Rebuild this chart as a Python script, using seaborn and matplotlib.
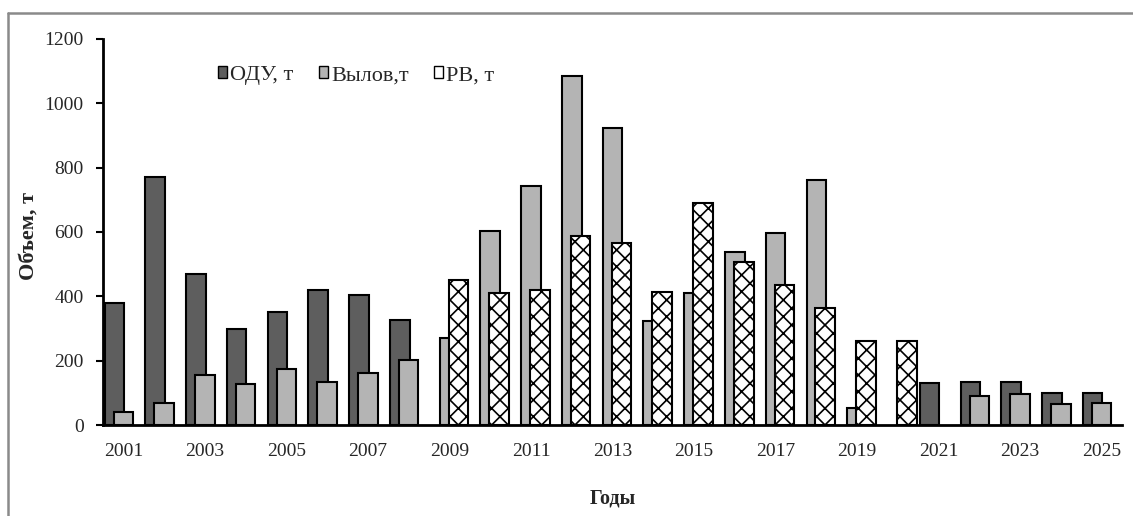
import numpy as np
import pandas as pd
import matplotlib
matplotlib.use("Agg")
import matplotlib.pyplot as plt
import seaborn as sns
from matplotlib.patches import Patch
from matplotlib.lines import Line2D

nan = np.nan
years = list(range(2001, 2026))
odu = [380, 770, 470, 300, 350, 420, 405, 325,
       nan, nan, nan, nan, nan, nan, nan, nan, nan, nan, nan, nan,
       130, 135, 135, 100, 100]
vylov = [40, 67, 155, 127, 173, 134, 161, 203,
         272, 604, 744, 1086, 922, 324, 409, 539, 596, 762, 54, nan,
         nan, 90, 95, 64, 67]
rv = [nan, nan, nan, nan, nan, nan, nan, nan,
      451, 409, 420, 588, 567, 412, 691, 506, 435, 363, 262, 262,
      nan, nan, nan, nan, nan]
series_names = ["ОДУ, т", "Вылов,т", "РВ, т"]
y_ticks = [0, 200, 400, 600, 800, 1000, 1200]
x_label = "Годы"
y_label = "Объем, т"

sns.set_style("white")
plt.rcParams["font.family"] = ["Liberation Serif", "DejaVu Serif"]
plt.rcParams["hatch.linewidth"] = 1.2
plt.rcParams["hatch.color"] = "black"

fig = plt.figure(figsize=(11.33, 5.16), dpi=100)
ax = fig.add_axes([103 / 1133, 1 - 425 / 516, 1019 / 1133, 386 / 516])

styles = [
    dict(color="#5e5e5e", hatch=None, off=-0.22, z=2),
    dict(color="#b4b4b4", hatch=None, off=0.0, z=3),
    dict(color="#ffffff", hatch="xx", off=0.22, z=4),
]
values = [odu, vylov, rv]
handles = []
for name, vals, st in zip(series_names, values, styles):
    df = pd.DataFrame({"x": [y + st["off"] for y in years], "v": vals}).dropna()
    kw = dict(edgecolor="black", linewidth=1.5, zorder=st["z"])
    if st["hatch"]:
        kw["hatch"] = st["hatch"]
    sns.barplot(data=df, x="x", y="v", native_scale=True, width=0.48,
                color=st["color"], saturation=1, errorbar=None, ax=ax, **kw)
    handles.append(Patch(facecolor=st["color"], edgecolor="black",
                         linewidth=1.0, label=name))

ax.set_xlim(years[0] - 0.5, years[-1] + 0.5)
ax.set_ylim(0, 1200)
ax.set_yticks(y_ticks)
ax.set_yticklabels([str(t) for t in y_ticks])
ax.set_xticks(np.arange(years[0] - 0.5, years[-1] + 1, 1))
ax.set_xticklabels([])
ax.set_xticks(years[::2], labels=[str(y) for y in years[::2]], minor=True)
ax.tick_params(axis="x", which="major", length=5, width=1.5, direction="out",
               color="black", labelbottom=False)
ax.tick_params(axis="x", which="minor", length=0, pad=13, labelsize=14)
ax.tick_params(axis="y", length=5, width=1.5, direction="out", color="black",
               pad=9, labelsize=14, left=True)
for s in ["top", "right"]:
    ax.spines[s].set_visible(False)
for s in ["left", "bottom"]:
    ax.spines[s].set_linewidth(2)
    ax.spines[s].set_color("black")
    ax.spines[s].set_zorder(6)

ax.set_xlabel(x_label, fontsize=14.5, fontweight="bold")
ax.set_ylabel(y_label, fontsize=16, fontweight="bold")
ax.xaxis.set_label_coords(0.5, -0.165)
ax.yaxis.set_label_coords(-0.063, 0.49)

ax.legend(handles=handles, loc="center left", bbox_to_anchor=(0.113, 0.905),
          ncol=3, frameon=False, fontsize=16, handlelength=0.42,
          handleheight=0.42, handletextpad=0.12, columnspacing=1.15,
          borderaxespad=0, borderpad=0)

fig.add_artist(Line2D([8 / 1133, 8 / 1133], [0, 1 - 13 / 516],
                      transform=fig.transFigure, color="#8a8a8a", linewidth=1.8))
fig.add_artist(Line2D([8 / 1133, 1], [1 - 13 / 516, 1 - 13 / 516],
                      transform=fig.transFigure, color="#8a8a8a", linewidth=1.8))

fig.savefig("out.png", dpi=100)
